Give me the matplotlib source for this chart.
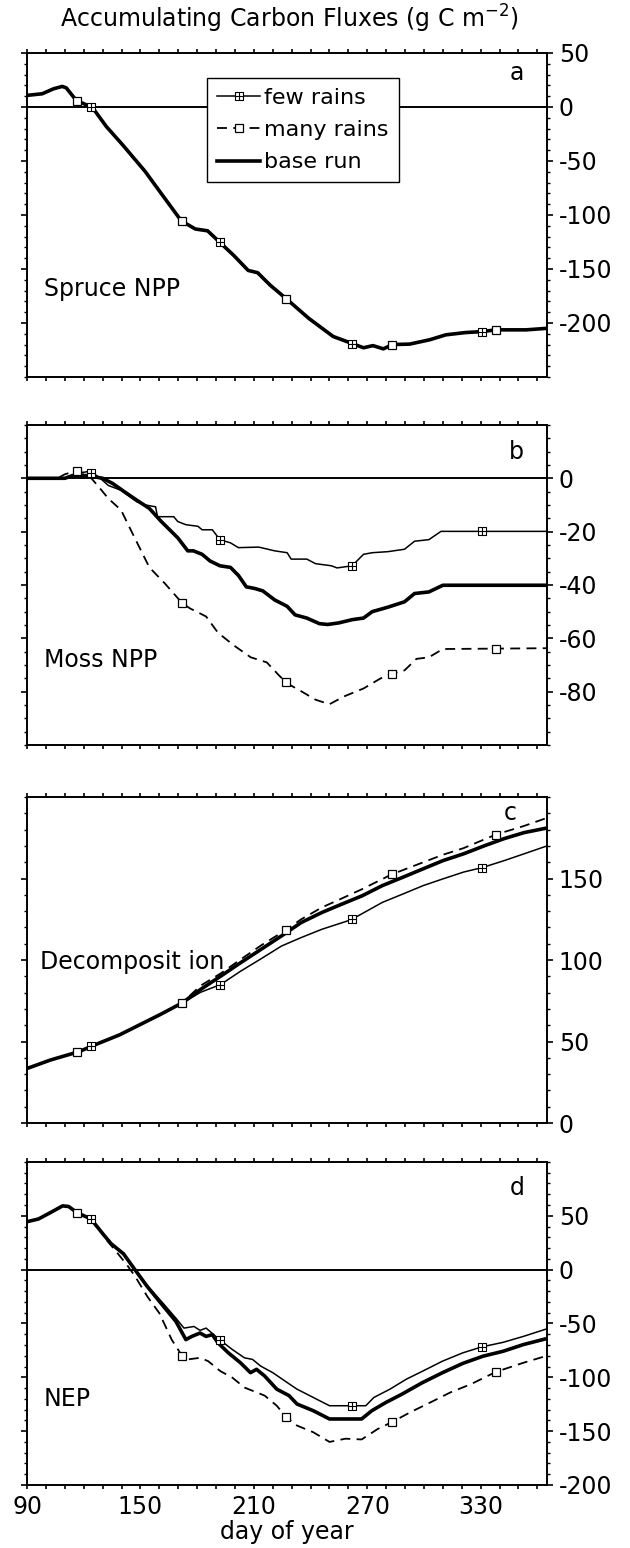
import numpy as np
import matplotlib.pyplot as plt
from matplotlib.path import Path
from matplotlib.lines import Line2D
from matplotlib.ticker import FixedLocator, MultipleLocator

plt.rcParams['font.family'] = ['DejaVu Sans']
plt.rcParams['axes.unicode_minus'] = False

# ---- panel a: spruce NPP (all three runs overlap)
spruce_days = [90, 98, 104, 108.6, 110.7, 116, 124.6, 132, 140.6, 152.4, 162, 171.6, 179, 185.5,
               192, 199.4, 207, 212, 218.6, 227, 239, 251.9, 261.4, 268, 273, 278.5, 283.4,
               292.4, 303, 311.6, 322, 330.8, 338, 354, 365]
spruce_vals = [10.7, 12.2, 16.8, 19, 17.7, 6.1, -0.6, -18.3, -35.2, -59.6, -82.6, -105.5, -113, -114.7,
               -125.4, -137.6, -151.4, -153.5, -165, -177.4, -195.7, -212.5, -218.7, -223, -221, -224, -220,
               -219.6, -215.6, -211, -208.9, -208, -206.4, -206.4, -205]

# ---- panel b: moss NPP
moss_few_days = [90, 110, 114, 118, 122, 125, 129, 133, 139.7, 148, 152.6, 158, 159, 167.6, 169.7, 174,
                 180.4, 182.6, 188, 192, 197.6, 201.8, 212.6, 221, 227.6, 229.7, 238, 242.6, 251, 254,
                 262, 268, 272.6, 281, 289.7, 295, 302.6, 309, 365]
moss_few_vals = [0, 0, 1, 2, 2.5, 2, -0.2, -2.7, -4.5, -8.8, -10, -10.7, -14.4, -14.4, -16.2, -17.4,
                 -18, -19.3, -19.3, -23, -24.2, -26, -25.8, -27.2, -27.9, -30.3, -30.3, -32, -32.8, -33.6,
                 -32.8, -28.5, -27.9, -27.5, -26.6, -23.6, -23, -19.9, -19.9]
moss_many_days = [90, 106, 110, 116, 120, 124, 128, 133, 139.7, 146, 154.7, 163, 167.6, 171.8, 176,
                  184.7, 191, 199.7, 208.3, 216.8, 223.3, 227.6, 234, 242.6, 250, 257.6, 268, 276.8,
                  283, 289.7, 296, 302.6, 310, 365]
moss_many_vals = [0, 0, 1.5, 2.8, 2, 0, -3.3, -7.6, -11.9, -21, -33.4, -39.5, -43.2, -46.6, -48.7,
                  -51.8, -57.9, -62.8, -67.1, -69, -73.9, -76.9, -79.4, -83, -84.7, -81.8, -78.8, -75.1,
                  -73.3, -72, -67.7, -67.1, -64, -63.7]
moss_base_days = [90, 110, 114, 122, 126, 130, 135.4, 141.8, 148, 154.7, 161, 169.7, 175, 178, 182.6,
                  186.8, 192, 197.6, 201.8, 206, 210.4, 214.7, 221, 227.6, 231.8, 238, 244.7, 249, 255,
                  262, 268, 272.6, 281, 289.7, 295, 302.6, 310, 365]
moss_base_vals = [0, 0, 1, 1, 0.5, 0, -2, -5.2, -8.2, -11.3, -16.2, -22.3, -27.2, -27.2, -28.5,
                  -31, -32.8, -33.4, -36.4, -40.7, -41.3, -42.2, -45.6, -48, -51.2, -52.4, -54.5, -54.8, -54.2,
                  -53, -52.4, -50, -48.3, -46.3, -43.2, -42.6, -40.1, -40.1]

# ---- panel c: decomposition
dec_base_days = [90, 102.4, 117.4, 128, 138.9, 149.6, 160.3, 172, 181.7, 192.4, 203, 213.8, 224.6, 235,
                 246, 256.7, 267.4, 278, 288.8, 299.6, 310, 321, 331.7, 342.4, 353, 365]
dec_base_vals = [33.5, 38.7, 43.8, 49, 54.1, 60.3, 66.5, 73.7, 81.9, 90.1, 98.4, 106.6, 114.8, 123,
                 129.2, 134.4, 139.5, 145.7, 150.8, 156, 161, 165.2, 170, 174.5, 178.2, 181]
dec_few_days = [90, 102.4, 117.4, 128, 138.9, 149.6, 160.3, 172, 181.7, 192.4, 203, 213.8, 224.6, 235,
                246, 261.4, 278, 288.8, 299.6, 310, 321, 331, 342.4, 353, 365]
dec_few_vals = [33.5, 38.7, 43.8, 49, 54.1, 60.3, 66.5, 73.4, 80.2, 85, 93.2, 100.8, 108.6, 113.8,
                118.9, 124.7, 135.4, 140.5, 145.7, 149.8, 154, 156.8, 161, 165.2, 170]
dec_many_days = [90, 102.4, 117.4, 128, 138.9, 149.6, 160.3, 172, 181.7, 192.4, 203, 213.8, 226.7, 235,
                 246, 256.7, 267.4, 282.8, 299.6, 310, 321, 338, 353, 365]
dec_many_vals = [33.5, 38.7, 43.8, 49, 54.1, 60.3, 66.5, 73.7, 84.2, 91.8, 100.4, 109, 118.3, 125,
                 132.3, 137.9, 143.6, 152.5, 160, 164.6, 168.7, 177, 182.3, 187.2]

# ---- panel d: NEP
nep_base_days = [90, 96, 102.4, 108.8, 112, 116.3, 123.8, 130.2, 134.5, 141, 147.3, 153.7, 162.3, 168.7,
                 174, 177.2, 181.5, 184.7, 188, 191, 196.5, 202.9, 208.2, 211.4, 215.7, 222.1, 228.6,
                 232.8, 241.4, 250, 258.5, 267, 272.4, 279.9, 288.4, 299.1, 309.8, 320.5, 331.2, 341.9,
                 352.6, 365]
nep_base_vals = [44.5, 47, 53, 59.2, 58.6, 53, 47, 33, 24, 14.7, -0.6, -16, -34.4, -48,
                 -65, -62, -58.9, -62, -60.4, -68, -77.3, -86.5, -95.7, -92.6, -98.8, -111, -117,
                 -124.8, -131, -138.7, -138.7, -138.7, -131, -123.3, -115.6, -105, -95.7, -87.1, -80.4, -75.8,
                 -69.6, -64]
nep_few_days = [90, 96, 102.4, 108.8, 112, 116.3, 123.8, 130.2, 134.5, 141, 147.3, 153.7, 162.3, 168.7,
                173, 178.3, 181.5, 184.7, 191.8, 198.6, 205, 209.3, 213.6, 220, 226.4, 232.8, 241.4, 250,
                262.3, 269.2, 273.5, 282, 290.6, 301.2, 309.8, 320.5, 330.5, 341.9, 352.6, 365]
nep_few_vals = [44.5, 47, 53, 59.2, 58.6, 53, 47, 33, 24, 14.7, -0.6, -15, -32, -45,
                -54.3, -52.8, -56.4, -54.3, -65, -74.2, -81.9, -83.4, -89.6, -95.7, -103.4, -111, -118.7, -126.4,
                -126.4, -126.4, -118.7, -111, -101.8, -92.6, -85, -77.3, -71.8, -67.5, -62, -55]
nep_many_days = [90, 96, 102.4, 108.8, 112, 116.3, 123.8, 128, 132.3, 138.8, 143, 147.3, 153.7, 160,
                 166.5, 171.9, 175, 181.5, 185.8, 192.2, 198.6, 205, 211.4, 215.7, 222.1, 226.8, 232.8,
                 241.4, 250, 258.5, 267, 275.6, 283.7, 292.7, 303.4, 314, 324.8, 338, 352.6, 365]
nep_many_vals = [44.5, 47, 53, 59.2, 58.6, 53, 47, 38, 27, 13.2, 4, -6.7, -25.2, -40.5,
                 -65, -79.8, -83.4, -81.9, -85, -94.2, -100.3, -109.5, -114, -117, -126.4, -136.2, -144.8,
                 -151, -160, -157, -157.7, -147.9, -141, -132.5, -123.3, -114, -106.4, -95, -86.5, -80]

# days where symbols are drawn on the sensitivity runs
few_mark_days = [124, 192, 262, 330.5]
many_mark_days = [116.5, 172, 227, 283, 338]

# square with a cross inside for "few rains"
few_marker = Path([(-1, -1), (1, -1), (1, 1), (-1, 1), (-1, -1), (0, -1), (0, 1), (-1, 0), (1, 0)],
                  [Path.MOVETO, Path.LINETO, Path.LINETO, Path.LINETO, Path.CLOSEPOLY,
                   Path.MOVETO, Path.LINETO, Path.MOVETO, Path.LINETO])

fs = 17
thin = 1.1
thick = 2.6
dash = (0, (5.5, 3.5))

fig = plt.figure(figsize=(6.3, 15.48), dpi=100)
L, W = 0.043, 0.825
boxes = [(0.7565, 0.2093), (0.5187, 0.2068), (0.2745, 0.2106), (0.0407, 0.2087)]
axes = [fig.add_axes([L, b, W, h]) for b, h in boxes]

panels = [
    dict(base=(spruce_days, spruce_vals), few=(spruce_days, spruce_vals), many=(spruce_days, spruce_vals),
         ylim=(-250, 50), labels=[50, 0, -50, -100, -150, -200], minor=10, zero=True,
         name='Spruce NPP', name_xy=(99, -169), tag='a', tag_xy=(0.942, 0.938)),
    dict(base=(moss_base_days, moss_base_vals), few=(moss_few_days, moss_few_vals),
         many=(moss_many_days, moss_many_vals),
         ylim=(-100, 20), labels=[0, -20, -40, -60, -80], minor=5, zero=True,
         name='Moss NPP', name_xy=(99, -68), tag='b', tag_xy=(0.942, 0.916)),
    dict(base=(dec_base_days, dec_base_vals), few=(dec_few_days, dec_few_vals),
         many=(dec_many_days, dec_many_vals),
         ylim=(0, 200), labels=[0, 50, 100, 150], minor=10, zero=False,
         name='Decomposit ion', name_xy=(97, 99), tag='c', tag_xy=(0.929, 0.951)),
    dict(base=(nep_base_days, nep_base_vals), few=(nep_few_days, nep_few_vals),
         many=(nep_many_days, nep_many_vals),
         ylim=(-200, 100), labels=[50, 0, -50, -100, -150, -200], minor=10, zero=True,
         name='NEP', name_xy=(99, -120), tag='d', tag_xy=(0.942, 0.92)),
]

for ax, p in zip(axes, panels):
    if p['zero']:
        ax.axhline(0, color='black', lw=1.4, zorder=1)
    ax.plot(*p['base'], color='black', lw=thick, zorder=3)
    ax.plot(*p['few'], color='black', lw=thin, zorder=3)
    ax.plot(*p['many'], color='black', lw=thin + 0.2, linestyle=dash, zorder=3)
    fx = np.array(few_mark_days)
    mx = np.array(many_mark_days)
    ax.plot(fx, np.interp(fx, *p['few']), ls='none', marker=few_marker, ms=5.5,
            mfc='white', mec='black', mew=0.8, zorder=4)
    ax.plot(mx, np.interp(mx, *p['many']), ls='none', marker='s', ms=6,
            mfc='white', mec='black', mew=0.9, zorder=4)

    ax.set_xlim(90, 365)
    ax.set_ylim(*p['ylim'])
    ax.xaxis.set_major_locator(FixedLocator([90, 150, 210, 270, 330]))
    ax.xaxis.set_minor_locator(MultipleLocator(10))
    ax.yaxis.set_major_locator(FixedLocator(p['labels']))
    ax.yaxis.set_minor_locator(MultipleLocator(p['minor']))
    ax.tick_params(axis='x', which='both', direction='out', length=3.2, width=1.2,
                   top=True, bottom=True, labelbottom=False, labelsize=fs, pad=4)
    ax.tick_params(axis='y', which='major', direction='out', length=4.5, width=1.2,
                   left=True, right=True, labelleft=False, labelright=True, labelsize=fs, pad=4)
    ax.tick_params(axis='y', which='minor', direction='out', length=2.2, width=1.0,
                   left=True, right=True)
    for s in ax.spines.values():
        s.set_linewidth(1.4)

    ax.text(*p['name_xy'], p['name'], fontsize=fs, ha='left', va='center')
    ax.text(*p['tag_xy'], p['tag'], fontsize=fs, ha='center', va='center',
            transform=ax.transAxes)

axes[3].tick_params(axis='x', labelbottom=True)
axes[3].set_xlabel('day of year', fontsize=fs, labelpad=1)

handles = [
    Line2D([], [], color='black', lw=thin, marker=few_marker, ms=5.5, mfc='white', mec='black', mew=0.8),
    Line2D([], [], color='black', lw=thin + 0.2, linestyle=dash, marker='s', ms=6, mfc='white',
           mec='black', mew=0.9),
    Line2D([], [], color='black', lw=thick),
]
leg = axes[0].legend(handles, ['few rains', 'many rains', 'base run'], loc='upper left',
                     bbox_to_anchor=(0.347, 0.923), fontsize=fs - 1, frameon=True, fancybox=False,
                     edgecolor='black', framealpha=1, handlelength=1.9, handletextpad=0.2,
                     labelspacing=0.55, borderpad=0.45, borderaxespad=0)
leg.get_frame().set_linewidth(1.0)
leg.set_zorder(5)

fig.text(0.46, 0.988, 'Accumulating Carbon Fluxes (g C m$^{-2}$)', fontsize=fs, ha='center', va='center')

fig.savefig('out.png', dpi=100)
